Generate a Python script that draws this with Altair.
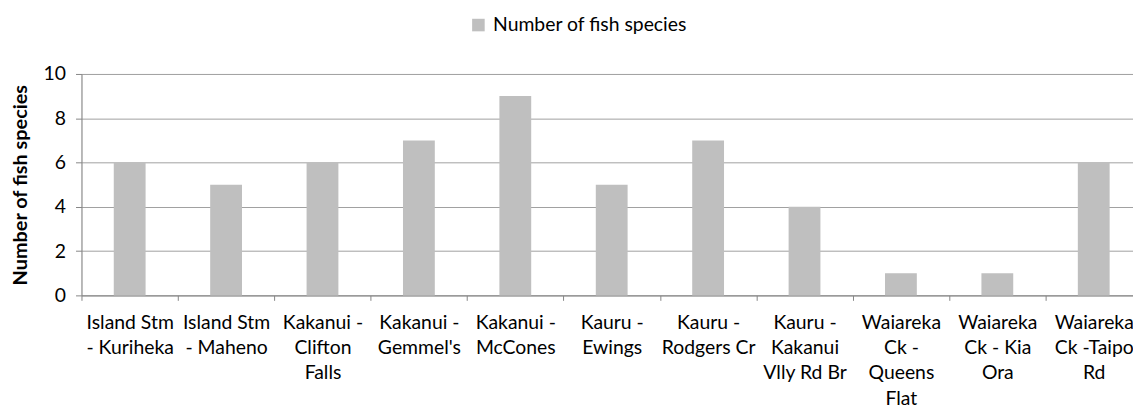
import altair as alt
import pandas as pd

categories = [
    "Island Stm\n- Kuriheka",
    "Island Stm\n- Maheno",
    "Kakanui -\nClifton\nFalls",
    "Kakanui -\nGemmel's",
    "Kakanui -\nMcCones",
    "Kauru -\nEwings",
    "Kauru -\nRodgers Cr",
    "Kauru -\nKakanui\nVlly Rd Br",
    "Waiareka\nCk -\nQueens\nFlat",
    "Waiareka\nCk - Kia\nOra",
    "Waiareka\nCk -Taipo\nRd",
]
species_counts = [6, 5, 6, 7, 9, 5, 7, 4, 1, 1, 6]
series_name = "Number of fish species"
y_ticks = [0, 2, 4, 6, 8, 10]

df = pd.DataFrame({
    "site": categories,
    "count": species_counts,
    "series": [series_name] * len(categories),
})

FONT = "Lato"
GRID = "#A0A0A0"
AXIS = "#868686"

chart = alt.Chart(df).mark_bar(width=alt.RelativeBandSize(0.33)).encode(
    x=alt.X(
        "site:N",
        sort=categories,
        scale=alt.Scale(paddingInner=0, paddingOuter=0),
        axis=alt.Axis(
            title=None,
            labelAngle=0,
            labelExpr="split(datum.label, '\\n')",
            labelFont=FONT,
            labelFontSize=19.5,
            labelColor="#000000",
            labelLineHeight=25.5,
            labelBaseline="top",
            labelPadding=13,
            labelLimit=0,
            tickBand="extent",
            tickSize=5,
            tickColor=AXIS,
            domainColor=AXIS,
            grid=False,
        ),
    ),
    y=alt.Y(
        "count:Q",
        scale=alt.Scale(domain=[0, 10], nice=False),
        axis=alt.Axis(
            values=y_ticks,
            title=series_name,
            titleFont=FONT,
            titleFontSize=20,
            titleFontWeight="bold",
            titleColor="#000000",
            titleAngle=-90,
            titleX=-61,
            titleY=111.5,
            titleAlign="center",
            titleBaseline="middle",
            labelFont=FONT,
            labelFontSize=19.5,
            labelColor="#000000",
            labelPadding=10,
            tickSize=6,
            tickColor=AXIS,
            domainColor=AXIS,
            gridColor=GRID,
            gridWidth=1,
        ),
    ),
    color=alt.Color(
        "series:N",
        scale=alt.Scale(range=["#BFBFBF"]),
        legend=alt.Legend(
            title=None,
            orient="none",
            legendX=390,
            legendY=-59,
            symbolType="square",
            symbolSize=160,
            symbolStrokeWidth=0,
            labelFont=FONT,
            labelFontSize=19.5,
            labelColor="#000000",
            labelOffset=5,
            labelLimit=0,
        ),
    ),
).properties(
    width=1068,
    height=223,
    padding={"left": 74, "top": 65, "right": -9, "bottom": 113},
    autosize=alt.AutoSizeParams(type="none"),
).configure_view(stroke=None).configure(background="#FFFFFF")

chart.save("out.html", embed_options={"renderer": "svg", "actions": False})
